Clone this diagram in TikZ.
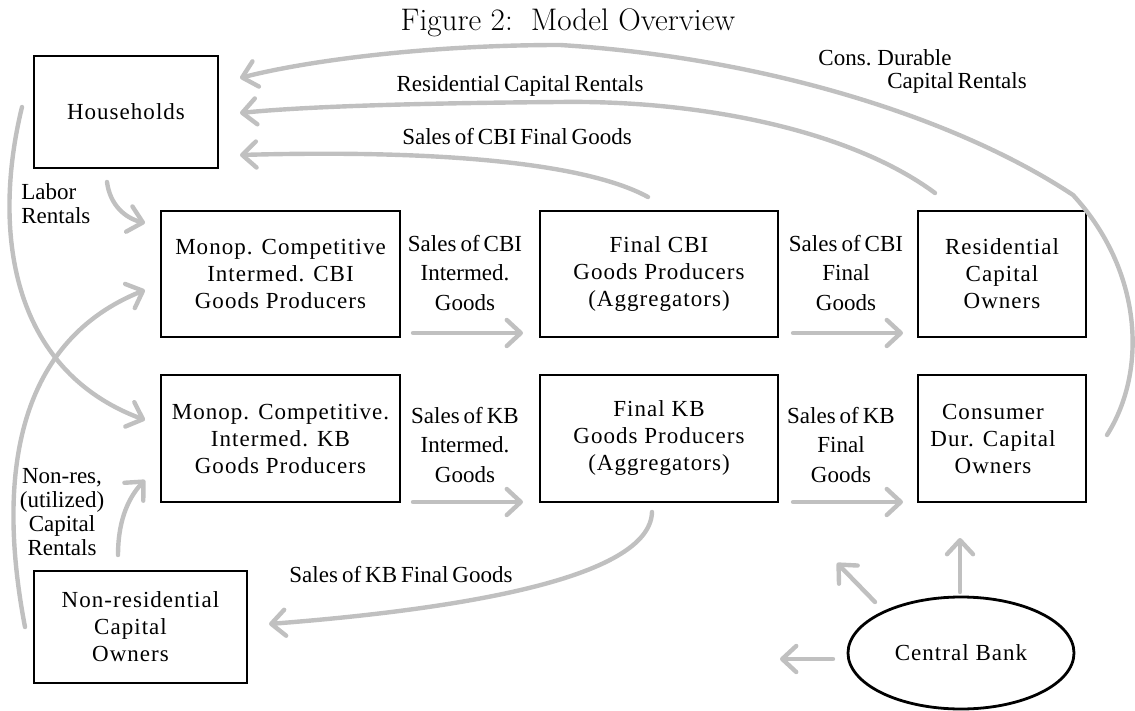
\documentclass[tikz,border=0pt]{standalone}
\usepackage{fontspec}
\newfontfamily\boxfont[LetterSpace=4.5]{Liberation Serif}
\newfontfamily\labfont[WordSpace=0.7]{Liberation Serif}
\usetikzlibrary{arrows.meta,shapes.geometric}
\definecolor{flowgray}{RGB}{192,192,192}
\tikzset{
  box/.style={draw=black, line width=1.4pt, align=center, inner sep=0pt,
    font=\boxfont\fontsize{11.5}{13.5}\selectfont},
  lab/.style={align=center, inner sep=0pt, font=\labfont\fontsize{11.5}{14.75}\selectfont},
  sidelab/.style={inner sep=0pt, font=\labfont\fontsize{11.5}{12}\selectfont},
  flow/.style={draw=flowgray, line width=2.2pt, line cap=round,
    -{Straight Barb[length=7pt,width=13pt,round]}}
}
\begin{document}
\begin{tikzpicture}[x=0.5pt,y=-0.5pt]
\useasboundingbox (0,0) rectangle (1135,711);
% title
\node[anchor=base, inner sep=0pt] (title) at (568,31) {\fontsize{15.6}{18}\selectfont Figure 2:\hskip 9pt Model Overview};
% boxes
\node[box, minimum width=92pt, minimum height=56pt] (hh) at (126,112) {Households};
\node[box, minimum width=119.5pt, minimum height=63pt] (mcbi) at (280.5,274) {Monop. Competitive\\Intermed. CBI\\Goods Producers};
\node[box, minimum width=119pt, minimum height=63pt] (fcbi) at (659,274) {Final CBI\\Goods Producers\\(Aggregators)};
\node[box, minimum width=84pt, minimum height=63pt] (res) at (1002,274) {Residential\\Capital\\Owners};
\node[box, minimum width=119.5pt, minimum height=63.5pt] (mkb) at (280.5,438.5) {Monop. Competitive.\\Intermed. KB\\Goods Producers};
\node[box, minimum width=119pt, minimum height=63.5pt] (fkb) at (659,438.5) {Final KB\\Goods Producers\\(Aggregators)};
\node[box, minimum width=84pt, minimum height=63.5pt] (cd) at (1002,438.5) {\mbox{Consumer\hspace{9pt}}\\\mbox{Dur. Capital\hspace{9pt}}\\\mbox{Owners\hspace{9pt}}};
\node[box, minimum width=106.5pt, minimum height=56pt] (nr) at (140.5,627) {Non-residential\\\mbox{Capital\hspace{10pt}}\\\mbox{Owners\hspace{10pt}}};
\node[box, ellipse, minimum width=113pt, minimum height=56pt] (cb) at (961,653) {Central Bank};
% labels
\node[lab] (l1) at (465,273) {Sales of CBI\\Intermed.\\Goods};
\node[lab] (l2) at (465,445) {Sales of KB\\Intermed.\\Goods};
\node[lab] (l3) at (846,273) {Sales of CBI\\Final\\Goods};
\node[lab] (l4) at (841,445) {Sales of KB\\Final\\Goods};
\node[lab] (l5) at (520,86) {Residential Capital Rentals};
\node[lab] (l6) at (517,137) {Sales of CBI Final Goods};
\node[lab] (l7) at (885,58) {Cons. Durable};
\node[lab] (l8) at (957,83) {Capital Rentals};
\node[lab] (l9) at (401,575) {Sales of KB Final Goods};
\node[sidelab, align=left, anchor=west] (l10) at (21,204) {Labor\\Rentals};
\node[sidelab, align=center] (l11) at (62,512) {Non-res,\\(utilized)\\Capital\\Rentals};
% connector end points
\coordinate (s1) at (413,333); \coordinate (e1) at (523,333);
\coordinate (s2) at (413,502); \coordinate (e2) at (523,502);
\coordinate (s3) at (793,333); \coordinate (e3) at (903,333);
\coordinate (s4) at (793,502); \coordinate (e4) at (903,502);
\coordinate (cbu) at (960,592); \coordinate (cbut) at (960,538);
\coordinate (cbd) at (875,602); \coordinate (cbdt) at (837,563);
\coordinate (cbl) at (833,659); \coordinate (cblt) at (780,659);
\coordinate (cds) at (1107,435); \coordinate (hh1) at (240,78);
\coordinate (ress) at (935,193); \coordinate (hh2) at (240,113);
\coordinate (fcbis) at (648,197); \coordinate (hh3) at (240,155);
\coordinate (labs) at (107,182); \coordinate (mcbi1) at (145,223);
\coordinate (hhs) at (22,107); \coordinate (mkb1) at (145,420);
\coordinate (nrs) at (25,627); \coordinate (mcbi2) at (145,290);
\coordinate (nrs2) at (118,555); \coordinate (mkb2) at (145,480);
\coordinate (fkbs) at (652,512); \coordinate (nrt) at (269,624);
% straight connectors
\draw[flow] (s1) -- (e1);
\draw[flow] (s2) -- (e2);
\draw[flow] (s3) -- (e3);
\draw[flow] (s4) -- (e4);
\draw[flow] (cbu) -- (cbut);
\draw[flow] (cbd) -- (cbdt);
\draw[flow] (cbl) -- (cblt);
% curved connectors
\draw[flow] (cds) .. controls (1148,370) and (1142,270) .. (1073,195)
  .. controls (960,120) and (770,58) .. (560,45)
  .. controls (430,45) and (310,60) .. (hh1);
\draw[flow] (ress) .. controls (850,130) and (700,100) .. (560,102)
  .. controls (430,103) and (310,106) .. (hh2);
\draw[flow] (fcbis) .. controls (580,160) and (420,150) .. (hh3);
\draw[flow] (labs) .. controls (110,205) and (125,218) .. (mcbi1);
\draw[flow] (hhs) .. controls (-8,230) and (10,370) .. (mkb1);
\draw[flow] (nrs) .. controls (-5,470) and (20,340) .. (mcbi2);
\draw[flow] (nrs2) .. controls (118,525) and (126,500) .. (mkb2);
\draw[flow] (fkbs) .. controls (650,580) and (450,610) .. (nrt);
\end{tikzpicture}
\end{document}
